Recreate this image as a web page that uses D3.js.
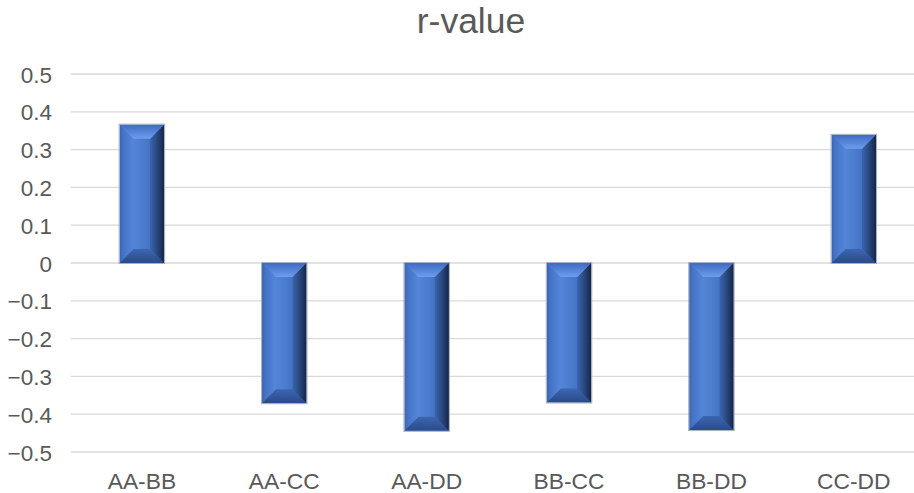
<!DOCTYPE html>
<html>
<head>
<meta charset="utf-8">
<script src="https://cdn.jsdelivr.net/npm/d3@7"></script>
<style>
  html, body { margin: 0; padding: 0; background: #fff; }
  svg { display: block; }
  text { font-family: "Liberation Sans", Arial, sans-serif; fill: #595959; }
</style>
</head>
<body>
<div id="chart"></div>
<script>
// Correlation coefficients per variable pair
const pairs = ["AA-BB", "AA-CC", "AA-DD", "BB-CC", "BB-DD", "CC-DD"];
const rValues = [0.366, -0.371, -0.444, -0.369, -0.442, 0.339];
const yTicks = [0.5, 0.4, 0.3, 0.2, 0.1, 0, -0.1, -0.2, -0.3, -0.4, -0.5];
const chartTitle = "r-value";

const W = 914, H = 493;
const plot = { left: 70.7, right: 925, top: 74, bottom: 452 };

const svg = d3.select("#chart").append("svg")
  .attr("width", W).attr("height", H);

const x = d3.scaleBand()
  .domain(pairs)
  .range([plot.left, plot.right])
  .paddingInner(0.6875)
  .paddingOuter(0.34375);

const y = d3.scaleLinear()
  .domain([-0.5, 0.5])
  .range([plot.bottom, plot.top]);

// Gradients for the bevelled bar faces
const defs = svg.append("defs");
function linGrad(id, vertical, stops) {
  const g = defs.append("linearGradient").attr("id", id)
    .attr("x1", 0).attr("y1", 0)
    .attr("x2", vertical ? 0 : 1).attr("y2", vertical ? 1 : 0);
  stops.forEach(([o, c]) => g.append("stop").attr("offset", o).attr("stop-color", c));
}
linGrad("faceGrad", false, [
  [0, "#3a64b2"], [0.08, "#4573c6"], [0.3, "#5386d8"], [0.55, "#4a7bcc"],
  [0.7, "#4372c2"], [0.8, "#375ea4"], [0.92, "#243f72"], [1, "#16264a"]
]);
linGrad("topGrad", true, [[0, "#3d6bc2"], [1, "#6d9ded"]]);
linGrad("bottomGrad", true, [[0, "#3c66b2"], [1, "#2a4a88"]]);
linGrad("rightGrad", false, [[0, "#2c4e8c"], [1, "#14223f"]]);

// Horizontal gridlines
svg.append("g")
  .selectAll("line")
  .data(yTicks)
  .join("line")
  .attr("x1", plot.left).attr("x2", plot.right)
  .attr("y1", d => y(d)).attr("y2", d => y(d))
  .attr("stroke", "#d9d9d9").attr("stroke-width", 1.3);

// Y-axis labels
const yAxis = d3.axisLeft(y).tickValues(yTicks).tickSize(0).tickPadding(0)
  .tickFormat(d => d3.format("")(+d.toFixed(1)));
svg.append("g")
  .attr("transform", `translate(52,0)`)
  .call(yAxis)
  .call(g => g.select(".domain").remove())
  .call(g => g.selectAll("text")
    .attr("font-size", 22.5).attr("fill", "#595959")
    .attr("font-family", "'Liberation Sans', Arial, sans-serif")
    .attr("dy", "0.36em"));

// X-axis category labels along the bottom
const xAxis = d3.axisBottom(x).tickSize(0).tickPadding(0);
svg.append("g")
  .attr("transform", `translate(0,${plot.bottom})`)
  .call(xAxis)
  .call(g => g.select(".domain").remove())
  .call(g => g.selectAll("text")
    .attr("font-size", 22.8).attr("fill", "#595959")
    .attr("font-family", "'Liberation Sans', Arial, sans-serif")
    .attr("y", 0).attr("dy", 0)
    .attr("transform", "translate(0,37)"));

// Bevelled bars
const bevel = 14;
svg.append("g").selectAll("g")
  .data(pairs.map((p, i) => ({ p, v: rValues[i] })))
  .join("g")
  .each(function(d) {
    const g = d3.select(this);
    const x0 = x(d.p), x1 = x0 + x.bandwidth();
    const y0 = Math.min(y(d.v), y(0)), y1 = Math.max(y(d.v), y(0));
    const b = Math.min(bevel, (x1 - x0) / 2, (y1 - y0) / 2);
    g.append("rect")
      .attr("x", x0).attr("y", y0)
      .attr("width", x1 - x0).attr("height", y1 - y0)
      .attr("fill", "url(#faceGrad)");
    g.append("polygon")
      .attr("points", [[x1, y0], [x1, y1], [x1 - b, y1 - b], [x1 - b, y0 + b]].join(" "))
      .attr("fill", "url(#rightGrad)").attr("opacity", 0.45);
    g.append("polygon")
      .attr("points", [[x0, y0], [x1, y0], [x1 - b, y0 + b], [x0 + b, y0 + b]].join(" "))
      .attr("fill", "url(#topGrad)");
    g.append("polygon")
      .attr("points", [[x0, y1], [x1, y1], [x1 - b, y1 - b], [x0 + b, y1 - b]].join(" "))
      .attr("fill", "url(#bottomGrad)");
    g.append("rect")
      .attr("x", x0 - 0.5).attr("y", y0 - 0.5)
      .attr("width", x1 - x0 + 1).attr("height", y1 - y0 + 1)
      .attr("fill", "none").attr("stroke", "#a7b0c2").attr("stroke-width", 1);
  });

// Title
svg.append("text")
  .attr("x", 471).attr("y", 33)
  .attr("text-anchor", "middle")
  .attr("font-size", 35.5)
  .text(chartTitle);
</script>
</body>
</html>
